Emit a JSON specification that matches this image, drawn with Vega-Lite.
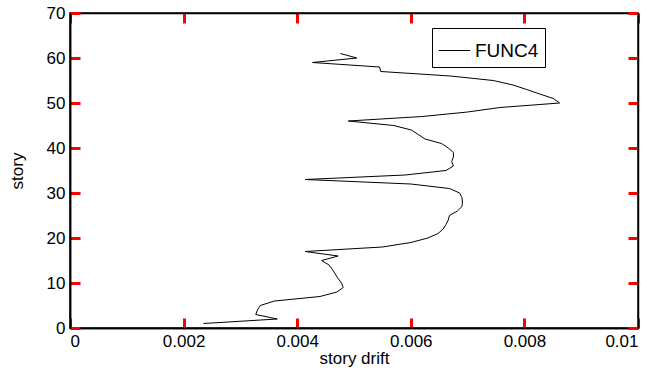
{
  "$schema": "https://vega.github.io/schema/vega-lite/v6.json",
  "autosize": {"type": "none"},
  "padding": {"left": 70, "top": 13, "right": 25, "bottom": 48},
  "width": 568,
  "height": 315,
  "background": "white",
  "config": {
    "view": {"stroke": "black", "strokeWidth": 1.5},
    "font": "Liberation Sans",
    "axis": {
      "grid": false,
      "domainColor": "black",
      "domainWidth": 1.5,
      "tickColor": "red",
      "tickWidth": 3,
      "tickSize": 10,
      "labelColor": "black",
      "titleColor": "black",
      "labelFont": "Liberation Sans",
      "titleFont": "Liberation Sans",
      "labelFontSize": 17,
      "titleFontSize": 17,
      "titleFontWeight": "normal",
      "labelPadding": 5
    },
    "legend": {
      "labelFont": "Liberation Sans",
      "labelFontSize": 19,
      "labelColor": "black"
    }
  },
  "data": {
    "values": [
      {"story": 1, "drift": 0.00235, "series": "FUNC4"},
      {"story": 2, "drift": 0.00365, "series": "FUNC4"},
      {"story": 3, "drift": 0.00327, "series": "FUNC4"},
      {"story": 4, "drift": 0.00330, "series": "FUNC4"},
      {"story": 5, "drift": 0.00335, "series": "FUNC4"},
      {"story": 6, "drift": 0.00360, "series": "FUNC4"},
      {"story": 7, "drift": 0.00440, "series": "FUNC4"},
      {"story": 8, "drift": 0.00470, "series": "FUNC4"},
      {"story": 9, "drift": 0.00481, "series": "FUNC4"},
      {"story": 10, "drift": 0.00478, "series": "FUNC4"},
      {"story": 11, "drift": 0.00472, "series": "FUNC4"},
      {"story": 12, "drift": 0.00467, "series": "FUNC4"},
      {"story": 13, "drift": 0.00462, "series": "FUNC4"},
      {"story": 14, "drift": 0.00456, "series": "FUNC4"},
      {"story": 15, "drift": 0.00443, "series": "FUNC4"},
      {"story": 16, "drift": 0.00472, "series": "FUNC4"},
      {"story": 17, "drift": 0.00414, "series": "FUNC4"},
      {"story": 18, "drift": 0.00550, "series": "FUNC4"},
      {"story": 19, "drift": 0.00600, "series": "FUNC4"},
      {"story": 20, "drift": 0.00630, "series": "FUNC4"},
      {"story": 21, "drift": 0.00648, "series": "FUNC4"},
      {"story": 22, "drift": 0.00657, "series": "FUNC4"},
      {"story": 23, "drift": 0.00662, "series": "FUNC4"},
      {"story": 24, "drift": 0.00666, "series": "FUNC4"},
      {"story": 25, "drift": 0.00668, "series": "FUNC4"},
      {"story": 26, "drift": 0.00682, "series": "FUNC4"},
      {"story": 27, "drift": 0.00690, "series": "FUNC4"},
      {"story": 28, "drift": 0.00691, "series": "FUNC4"},
      {"story": 29, "drift": 0.00690, "series": "FUNC4"},
      {"story": 30, "drift": 0.00686, "series": "FUNC4"},
      {"story": 31, "drift": 0.00668, "series": "FUNC4"},
      {"story": 32, "drift": 0.00600, "series": "FUNC4"},
      {"story": 33, "drift": 0.00414, "series": "FUNC4"},
      {"story": 34, "drift": 0.00590, "series": "FUNC4"},
      {"story": 35, "drift": 0.00662, "series": "FUNC4"},
      {"story": 36, "drift": 0.00675, "series": "FUNC4"},
      {"story": 37, "drift": 0.00672, "series": "FUNC4"},
      {"story": 38, "drift": 0.00675, "series": "FUNC4"},
      {"story": 39, "drift": 0.00675, "series": "FUNC4"},
      {"story": 40, "drift": 0.00666, "series": "FUNC4"},
      {"story": 41, "drift": 0.00654, "series": "FUNC4"},
      {"story": 42, "drift": 0.00625, "series": "FUNC4"},
      {"story": 43, "drift": 0.00613, "series": "FUNC4"},
      {"story": 44, "drift": 0.00601, "series": "FUNC4"},
      {"story": 45, "drift": 0.00570, "series": "FUNC4"},
      {"story": 46, "drift": 0.00490, "series": "FUNC4"},
      {"story": 47, "drift": 0.00620, "series": "FUNC4"},
      {"story": 48, "drift": 0.00700, "series": "FUNC4"},
      {"story": 49, "drift": 0.00757, "series": "FUNC4"},
      {"story": 50, "drift": 0.00862, "series": "FUNC4"},
      {"story": 51, "drift": 0.00851, "series": "FUNC4"},
      {"story": 52, "drift": 0.00827, "series": "FUNC4"},
      {"story": 53, "drift": 0.00804, "series": "FUNC4"},
      {"story": 54, "drift": 0.00780, "series": "FUNC4"},
      {"story": 55, "drift": 0.00745, "series": "FUNC4"},
      {"story": 56, "drift": 0.00670, "series": "FUNC4"},
      {"story": 57, "drift": 0.00547, "series": "FUNC4"},
      {"story": 58, "drift": 0.00545, "series": "FUNC4"},
      {"story": 59, "drift": 0.00427, "series": "FUNC4"},
      {"story": 60, "drift": 0.00505, "series": "FUNC4"},
      {"story": 61, "drift": 0.00476, "series": "FUNC4"}
    ]
  },
  "layer": [
    {
      "mark": {"type": "point", "opacity": 0},
      "encoding": {
        "x": {
          "field": "drift", "type": "quantitative",
          "scale": {"domain": [0, 0.01], "nice": false},
          "axis": {"orient": "top", "offset": -315, "title": null, "labels": false, "values": [0, 0.002, 0.004, 0.006, 0.008, 0.01]}
        },
        "y": {
          "field": "story", "type": "quantitative",
          "scale": {"domain": [0, 70], "nice": false},
          "axis": {"orient": "right", "offset": -568, "title": null, "labels": false, "values": [0, 10, 20, 30, 40, 50, 60, 70]}
        }
      }
    },
    {
      "mark": {"type": "line", "strokeWidth": 1, "clip": true},
      "encoding": {
        "x": {
          "field": "drift", "type": "quantitative",
          "scale": {"domain": [0, 0.01], "nice": false},
          "axis": {"orient": "bottom", "title": "story drift", "tickSize": 0, "values": [0, 0.002, 0.004, 0.006, 0.008, 0.01], "format": ".3~f", "titlePadding": 1}
        },
        "y": {
          "field": "story", "type": "quantitative",
          "scale": {"domain": [0, 70], "nice": false},
          "axis": {"orient": "left", "title": "story", "tickSize": 0, "values": [0, 10, 20, 30, 40, 50, 60, 70], "titlePadding": 20}
        },
        "order": {"field": "story", "type": "quantitative"},
        "color": {
          "field": "series", "type": "nominal",
          "scale": {"range": ["black"]},
          "legend": {
            "title": null,
            "orient": "none",
            "legendX": 362,
            "legendY": 15,
            "symbolType": "stroke",
            "symbolSize": 1000,
            "symbolStrokeWidth": 1,
            "strokeColor": "black",
            "fillColor": "white",
            "padding": 6,
            "labelOffset": 4
          }
        }
      }
    },
    {
      "mark": {"type": "point", "opacity": 0},
      "encoding": {
        "x": {
          "field": "drift", "type": "quantitative",
          "scale": {"domain": [0, 0.01], "nice": false},
          "axis": {"orient": "bottom", "offset": -315, "title": null, "labels": false, "values": [0, 0.002, 0.004, 0.006, 0.008, 0.01]}
        },
        "y": {
          "field": "story", "type": "quantitative",
          "scale": {"domain": [0, 70], "nice": false},
          "axis": {"orient": "left", "offset": -568, "title": null, "labels": false, "values": [0, 10, 20, 30, 40, 50, 60, 70]}
        }
      }
    }
  ],
  "resolve": {
    "scale": {"x": "independent", "y": "independent"},
    "axis": {"x": "independent", "y": "independent"}
  }
}
